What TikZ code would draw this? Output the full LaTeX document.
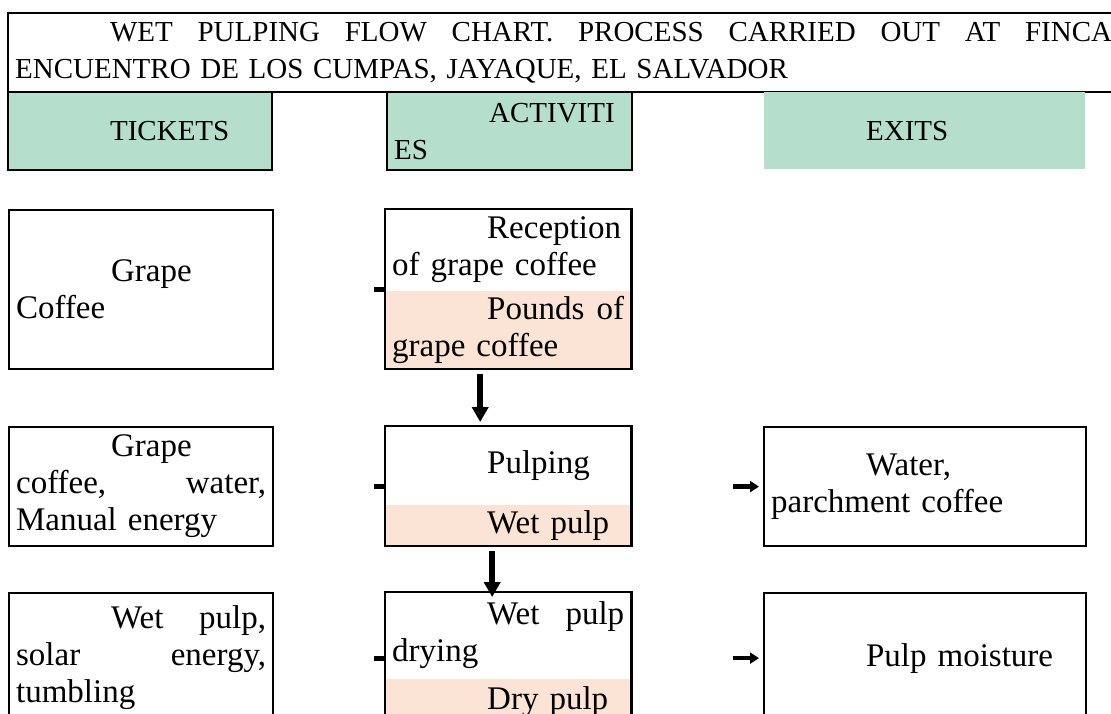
\documentclass[tikz,border=0pt]{standalone}
\usepackage{fontspec}
\setmainfont{Liberation Serif}
\usetikzlibrary{arrows.meta,positioning}
\definecolor{headgreen}{HTML}{B5DFCB}
\definecolor{outpink}{HTML}{FBE4D5}
\newcommand{\ind}{\hspace*{95pt}}
\newcommand{\bodyfont}{\fontsize{33}{37}\selectfont}
\newcommand{\capfont}{\fontsize{29}{37}\selectfont}
\begin{document}
\begin{tikzpicture}[x=1pt,y=-1pt,
  box/.style={draw,line width=2.2pt,anchor=north west,inner xsep=7pt,inner ysep=0pt,align=left,font=\bodyfont},
  part/.style={anchor=north west,inner xsep=7pt,inner ysep=0pt,align=left,font=\bodyfont,text width=232pt,minimum width=246pt},
  flow/.style={line width=5.5pt,-{Triangle[length=15pt,width=16pt]}},
  outflow/.style={line width=4.5pt,-{Triangle[length=9pt,width=11pt]}},
  stub/.style={line width=5pt}]
\useasboundingbox (0,0) rectangle (1111,713);
\clip (0,0) rectangle (1111,713);
% title and column heads
\node[box,font=\capfont,text width=1097pt,minimum width=1111pt,minimum height=79pt] (title) at (7,12)
  {\ind WET\hfill PULPING\hfill FLOW\hfill CHART.\hfill PROCESS\hfill CARRIED\hfill OUT\hfill AT\hfill FINCA\\ENCUENTRO DE LOS CUMPAS, JAYAQUE, EL SALVADOR};
\node[box,font=\capfont,fill=headgreen,text width=250pt,minimum height=78pt] (tickets) at (7,91) {\ind TICKETS};
\node[box,font=\capfont,fill=headgreen,text width=231pt,minimum height=78pt] (activities) at (386,91) {\ind ACTIVITI\\ES};
\node[box,draw=none,font=\capfont,fill=headgreen,text width=307pt,minimum height=77pt] (exits) at (763,91) {\ind EXITS};
% row 1
\node[box,text width=250pt,minimum height=159pt] (grape) at (8,209) {\ind Grape\\Coffee};
\node[part,minimum height=81pt] (recep) at (385,209) {\ind Reception\\of grape coffee};
\node[part,minimum height=78pt,fill=outpink,below=0pt of recep] (pounds) {\ind Pounds\hfill of\\grape coffee};
\draw[line width=2.2pt] (recep.north west) rectangle (pounds.south east);
% row 2
\node[box,text width=250pt,minimum height=119pt] (grapewater) at (8,426) {\ind Grape\\coffee,\hfill water,\\Manual energy};
\node[part,minimum height=78pt] (pulping) at (385,426) {\ind Pulping};
\node[part,minimum height=41pt,fill=outpink,below=0pt of pulping] (wetpulp) {\ind Wet pulp};
\draw[line width=2.2pt] (pulping.north west) rectangle (wetpulp.south east);
\node[box,text width=308pt,minimum height=119pt] (water) at (763,426) {\ind Water,\\parchment coffee};
% row 3
\node[box,text width=250pt,minimum height=130pt] (solar) at (8,592) {\ind Wet\hfill pulp,\\solar\hfill energy,\\tumbling};
\node[part,minimum height=86pt] (drying) at (385,592) {\ind Wet\hfill pulp\\drying};
\node[part,minimum height=45pt,fill=outpink,below=0pt of drying] (drypulp) {\ind Dry pulp};
\draw[line width=2.2pt] (drying.north west) rectangle (drypulp.south east);
\node[box,text width=308pt,minimum height=130pt] (moisture) at (763,592) {\ind Pulp moisture};
% connectors
\coordinate (in1) at (grape.east -| recep.west);
\coordinate (in2) at (grapewater.east -| pulping.west);
\coordinate (in3) at (solar.east -| drying.west);
\draw[stub] ([xshift=-11pt]in1) -- (in1);
\draw[stub] ([xshift=-11pt]in2) -- (in2);
\draw[stub] ([xshift=-11pt]in3) -- (in3);
\draw[outflow] ([xshift=-30pt]water.west) -- ([xshift=-4pt]water.west);
\draw[outflow] ([xshift=-30pt]moisture.west) -- ([xshift=-4pt]moisture.west);
\draw[flow] ([xshift=-28pt,yshift=-5pt]pounds.south) -- ([xshift=-28pt,yshift=4pt]pulping.north);
\draw[flow] ([xshift=-16pt,yshift=-5pt]wetpulp.south) -- ([xshift=-16pt,yshift=-5pt]drying.north);
\end{tikzpicture}
\end{document}
